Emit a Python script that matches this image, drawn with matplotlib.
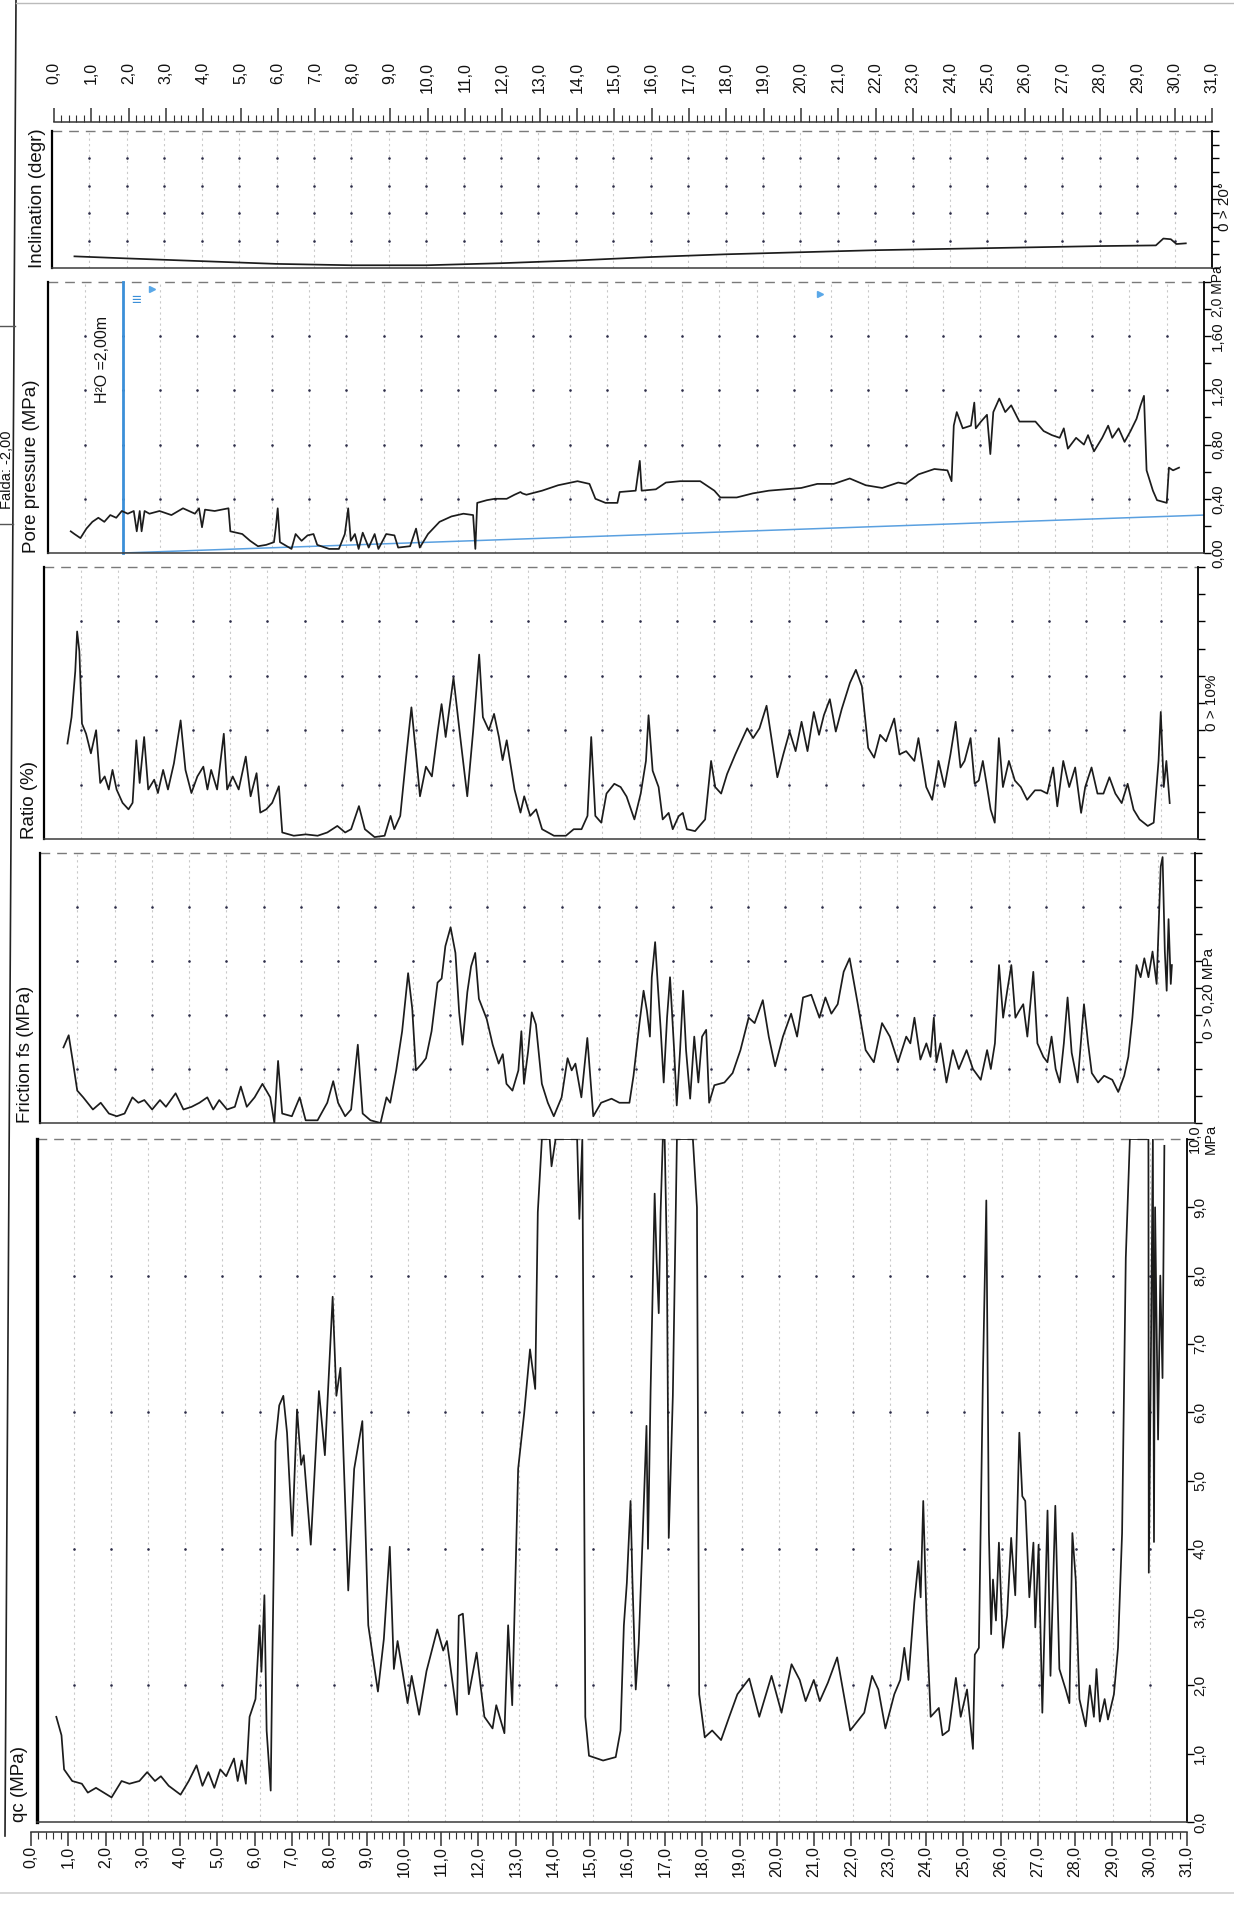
import matplotlib
matplotlib.use("Agg")
import matplotlib.pyplot as plt
import numpy as np
from matplotlib.transforms import blended_transform_factory
from matplotlib.lines import Line2D

# ---------------- DATA ----------------
depth_ticks = list(range(0, 32))
depth_labels = [f"{d},0" for d in depth_ticks]

qc_depth = [0.52,0.66,0.73,0.95,1.21,1.37,1.59,2.01,2.28,2.49,2.76,2.97,3.18,3.34,3.55,3.87,4.09,4.30,4.46,4.62,
            4.78,4.94,5.10,5.31,5.41,5.52,5.63,5.73,5.89,6.00,6.05,6.13,6.19,6.30,6.34,6.43,6.53,6.64,6.74,6.88,
            7.01,7.12,7.19,7.38,7.60,7.76,7.97,8.07,8.18,8.39,8.55,8.77,8.93,9.19,9.35,9.51,9.62,9.72,9.99,10.10,
            10.30,10.50,10.79,10.95,11.05,11.32,11.37,11.48,11.64,11.85,12.06,12.28,12.38,12.60,12.70,12.81,12.97,13.13,13.29,13.43,
            13.50,13.61,13.82,13.87,13.98,14.56,14.62,14.70,14.74,14.78,14.88,15.26,15.60,15.73,15.82,15.90,16.00,16.05,16.14,16.22,
            16.33,16.43,16.47,16.54,16.65,16.70,16.76,16.81,16.87,16.92,16.98,17.03,17.14,17.25,17.68,17.79,17.85,18.00,18.20,18.44,
            18.66,18.88,19.20,19.47,19.80,20.07,20.34,20.56,20.72,20.94,21.10,21.32,21.57,21.92,22.30,22.51,22.68,22.87,23.11,23.27,
            23.38,23.49,23.65,23.76,23.82,23.89,23.98,24.09,24.31,24.41,24.58,24.77,24.90,25.07,25.23,25.28,25.39,25.50,25.59,25.66,
            25.72,25.77,25.85,25.93,26.04,26.15,26.26,26.37,26.48,26.56,26.64,26.75,26.86,26.91,27.00,27.10,27.24,27.32,27.45,27.56,
            27.73,27.83,27.91,28.00,28.10,28.27,28.38,28.49,28.56,28.65,28.78,28.87,29.03,29.14,29.25,29.35,29.46,29.96,29.97,30.03,
            30.08,30.11,30.14,30.22,30.28,30.34,30.39]
qc_value = [1.54,1.27,0.77,0.60,0.56,0.43,0.50,0.36,0.60,0.56,0.60,0.73,0.60,0.67,0.53,0.40,0.60,0.83,0.53,0.73,
            0.50,0.77,0.67,0.93,0.60,0.90,0.56,1.54,1.80,2.88,2.20,3.32,1.34,0.46,2.20,5.57,6.10,6.24,5.70,4.19,
            6.04,5.23,5.37,4.06,6.31,5.37,7.69,6.24,6.65,3.39,5.17,5.87,2.88,1.91,2.68,4.03,2.24,2.65,1.74,2.14,
            1.57,2.21,2.82,2.51,2.65,1.57,3.02,3.05,1.87,2.48,1.54,1.37,1.71,1.30,2.88,1.71,5.17,5.97,6.92,6.34,
            8.93,10.0,10.0,9.60,10.0,10.0,8.83,10.0,6.00,1.54,0.97,0.90,0.95,1.34,2.88,3.50,4.70,3.55,1.94,2.61,
            4.23,5.80,4.00,6.30,9.20,8.26,7.45,8.93,10.0,10.0,8.26,4.16,6.24,10.0,10.0,9.00,1.87,1.24,1.34,1.20,
            1.54,1.87,2.10,1.54,2.14,1.60,2.31,2.08,1.77,2.08,1.77,2.04,2.41,1.34,1.60,2.14,1.94,1.37,1.87,2.08,
            2.55,2.08,3.22,3.82,3.29,4.70,2.95,1.54,1.67,1.27,1.34,2.11,1.54,1.94,1.07,2.45,2.55,6.58,9.10,4.23,
            2.75,3.55,2.95,4.09,2.55,3.02,4.16,3.32,5.70,4.77,4.70,3.29,4.09,2.85,4.06,1.60,4.56,2.14,4.63,2.24,
            1.94,1.74,4.23,3.55,1.80,1.40,2.00,1.54,2.24,1.47,1.80,1.50,1.87,2.55,4.23,8.26,10.0,10.0,3.65,7.00,
            10.0,4.10,9.00,5.60,8.00,6.50,9.90]

fs_depth = [0.63,0.77,0.89,1.00,1.16,1.42,1.63,1.85,2.06,2.27,2.48,2.64,2.80,3.01,3.22,3.38,3.64,3.85,4.07,4.28,
            4.49,4.65,4.81,5.02,5.23,5.39,5.55,5.76,5.97,6.18,6.29,6.39,6.50,6.76,6.97,7.13,7.45,7.71,7.87,8.00,
            8.19,8.35,8.53,8.66,8.87,9.14,9.30,9.40,9.56,9.72,9.88,9.99,10.09,10.25,10.36,10.51,10.67,10.78,10.88,11.02,
            11.15,11.25,11.34,11.47,11.57,11.68,11.78,11.99,12.15,12.31,12.42,12.52,12.68,12.84,12.92,12.99,13.10,13.20,13.31,13.47,
            13.63,13.79,14.00,14.16,14.27,14.37,14.53,14.69,14.85,15.06,15.34,15.55,15.82,15.93,16.09,16.20,16.29,16.37,16.42,16.51,
            16.58,16.66,16.74,16.83,16.91,17.02,17.09,17.18,17.26,17.34,17.45,17.56,17.67,17.77,17.88,17.96,18.10,18.37,18.59,18.80,
            19.02,19.18,19.40,19.56,19.73,19.94,20.16,20.32,20.48,20.70,20.92,21.08,21.24,21.41,21.57,21.73,21.95,22.16,22.38,22.60,
            22.81,23.03,23.25,23.36,23.47,23.63,23.79,23.90,23.99,24.06,24.17,24.33,24.50,24.66,24.87,25.04,25.25,25.42,25.52,25.63,
            25.74,25.85,25.96,26.07,26.18,26.28,26.39,26.50,26.66,26.77,26.93,27.04,27.15,27.26,27.37,27.48,27.58,27.69,27.85,28.02,
            28.13,28.23,28.40,28.56,28.78,28.94,29.10,29.21,29.32,29.43,29.54,29.64,29.75,29.86,29.97,30.08,30.13,30.19,30.24,30.29,
            30.35,30.38]
fs_value = [0.056,0.065,0.044,0.024,0.019,0.010,0.015,0.007,0.005,0.007,0.019,0.015,0.017,0.010,0.017,0.012,0.022,0.010,0.012,0.015,
            0.019,0.010,0.017,0.010,0.012,0.027,0.012,0.019,0.029,0.019,0.000,0.046,0.007,0.005,0.019,0.002,0.002,0.015,0.031,0.015,
            0.005,0.010,0.058,0.007,0.002,0.000,0.019,0.015,0.039,0.068,0.111,0.085,0.039,0.044,0.048,0.068,0.104,0.107,0.131,0.145,
            0.126,0.082,0.058,0.097,0.116,0.126,0.092,0.077,0.058,0.044,0.051,0.029,0.024,0.039,0.068,0.029,0.053,0.082,0.073,0.029,
            0.015,0.005,0.019,0.048,0.039,0.044,0.019,0.063,0.005,0.015,0.018,0.015,0.015,0.035,0.074,0.098,0.083,0.064,0.108,0.134,
            0.103,0.069,0.030,0.078,0.108,0.054,0.013,0.054,0.098,0.054,0.018,0.064,0.030,0.064,0.069,0.015,0.028,0.030,0.037,0.054,
            0.078,0.074,0.091,0.064,0.042,0.064,0.081,0.064,0.093,0.095,0.078,0.093,0.081,0.088,0.112,0.122,0.088,0.054,0.045,0.074,
            0.064,0.045,0.064,0.059,0.078,0.047,0.059,0.049,0.078,0.045,0.059,0.030,0.054,0.040,0.054,0.040,0.032,0.054,0.040,0.059,
            0.117,0.078,0.098,0.117,0.078,0.083,0.088,0.064,0.112,0.059,0.049,0.045,0.064,0.040,0.030,0.059,0.093,0.052,0.030,0.088,
            0.059,0.037,0.030,0.035,0.032,0.023,0.035,0.049,0.078,0.117,0.108,0.122,0.108,0.127,0.103,0.190,0.197,0.127,0.098,0.151,
            0.103,0.117]

rf_depth = [0.63,0.74,0.84,0.89,0.95,1.02,1.13,1.26,1.40,1.51,1.63,1.74,1.84,1.95,2.11,2.27,2.38,2.48,2.57,2.69,
            2.80,2.96,3.06,3.20,3.33,3.49,3.67,3.80,3.96,4.12,4.28,4.39,4.49,4.65,4.83,4.92,5.07,5.23,5.42,5.55,
            5.71,5.81,5.97,6.13,6.31,6.40,6.71,7.03,7.35,7.61,7.88,8.09,8.25,8.46,8.62,8.88,9.15,9.31,9.41,9.57,
            9.73,9.87,10.00,10.10,10.26,10.42,10.58,10.68,10.79,11.00,11.16,11.37,11.53,11.69,11.79,11.95,12.09,12.22,12.32,12.43,
            12.64,12.80,12.90,13.06,13.22,13.38,13.70,14.02,14.23,14.44,14.60,14.70,14.81,14.97,15.11,15.32,15.49,15.65,15.86,16.03,
            16.17,16.24,16.35,16.51,16.62,16.78,16.89,17.05,17.16,17.27,17.49,17.76,17.92,18.03,18.19,18.35,18.57,18.73,18.89,19.05,
            19.22,19.41,19.54,19.70,19.86,20.03,20.19,20.35,20.51,20.68,20.82,20.95,21.11,21.27,21.43,21.65,21.81,21.97,22.14,22.30,
            22.46,22.62,22.84,22.98,23.16,23.38,23.49,23.70,23.86,24.03,24.19,24.35,24.49,24.62,24.73,24.89,25.00,25.11,25.22,25.32,
            25.43,25.54,25.65,25.76,25.92,26.08,26.24,26.41,26.62,26.78,26.95,27.11,27.22,27.38,27.54,27.70,27.86,27.97,28.14,28.30,
            28.46,28.62,28.78,28.95,29.11,29.27,29.43,29.65,29.81,29.94,30.00,30.08,30.15,30.24]
rf_value = [3.51,4.48,6.17,7.63,6.90,4.24,3.87,3.15,4.00,2.06,2.30,1.82,2.54,1.82,1.33,1.09,1.33,3.63,2.06,3.75,
            1.82,2.18,1.69,2.54,1.82,2.78,4.36,2.54,1.69,2.30,2.66,1.82,2.54,1.82,3.87,1.82,2.30,1.82,3.03,1.57,
            2.42,0.97,1.09,1.33,1.94,0.24,0.12,0.17,0.12,0.24,0.48,0.24,0.36,1.21,0.36,0.07,0.12,0.85,0.36,0.85,
            3.03,4.84,3.03,1.57,2.66,2.30,4.00,4.96,3.75,5.93,4.00,1.57,4.00,6.78,4.48,4.00,4.60,3.75,2.90,3.63,
            1.82,0.97,1.57,0.85,1.09,0.36,0.12,0.12,0.36,0.36,0.85,3.75,0.85,0.60,1.67,2.03,1.91,1.56,0.72,1.67,
            2.87,4.55,2.51,1.91,0.72,0.96,0.36,0.84,0.96,0.36,0.29,0.72,2.87,1.91,1.67,2.39,3.11,3.59,4.07,3.71,
            4.07,4.90,3.71,2.27,3.11,3.95,3.23,4.31,3.23,4.67,3.83,4.55,5.14,3.95,4.78,5.74,6.22,5.62,3.35,2.99,
            3.83,3.59,4.43,3.11,3.23,2.87,3.71,1.91,1.44,2.87,1.91,3.11,4.31,2.63,2.87,3.71,2.03,2.15,2.87,2.03,
            1.08,0.60,3.71,1.91,2.87,2.15,1.91,1.44,1.79,1.79,1.67,2.63,1.20,2.87,1.91,2.63,0.96,1.91,2.63,1.67,
            1.67,2.27,1.67,1.32,2.03,1.08,0.72,0.48,0.60,2.87,4.67,1.91,2.87,1.32]

u_depth = [0.61,0.71,0.87,1.03,1.19,1.35,1.51,1.67,1.83,1.98,2.14,2.30,2.38,2.46,2.51,2.59,2.72,2.99,3.31,3.62,
           3.94,4.05,4.13,4.21,4.47,4.84,4.89,5.21,5.42,5.63,5.85,6.06,6.11,6.16,6.22,6.53,6.64,6.80,6.96,7.12,
           7.22,7.54,7.80,7.96,8.05,8.12,8.23,8.33,8.44,8.60,8.76,8.86,9.07,9.29,9.39,9.71,9.87,9.97,10.19,10.50,
           10.82,11.14,11.40,11.46,11.51,11.77,11.98,12.30,12.51,12.67,12.72,12.83,13.25,13.68,14.20,14.52,14.68,14.95,15.27,15.33,
           15.76,15.87,15.92,16.30,16.57,16.95,17.49,17.87,18.03,18.47,18.90,19.33,19.77,20.20,20.63,21.07,21.50,21.93,22.37,22.80,
           23.00,23.34,23.77,24.12,24.23,24.29,24.37,24.53,24.75,24.84,24.88,25.02,25.18,25.27,25.35,25.51,25.67,25.83,26.05,26.27,
           26.48,26.70,26.92,27.13,27.24,27.35,27.57,27.78,27.89,28.05,28.27,28.43,28.54,28.71,28.87,29.03,29.19,29.30,29.39,29.46,
           29.63,29.74,30.00,30.06,30.17,30.33]
u_value = [0.16,0.14,0.11,0.18,0.23,0.26,0.23,0.28,0.26,0.31,0.29,0.31,0.16,0.31,0.16,0.31,0.29,0.31,0.28,0.33,
           0.29,0.33,0.19,0.32,0.31,0.33,0.16,0.14,0.09,0.05,0.06,0.08,0.19,0.33,0.08,0.03,0.14,0.09,0.13,0.14,
           0.06,0.03,0.03,0.14,0.33,0.09,0.14,0.03,0.15,0.04,0.14,0.03,0.14,0.13,0.04,0.05,0.18,0.04,0.14,0.23,
           0.27,0.29,0.28,0.03,0.37,0.39,0.40,0.40,0.43,0.45,0.44,0.43,0.46,0.50,0.53,0.51,0.40,0.37,0.37,0.45,
           0.46,0.68,0.46,0.47,0.52,0.53,0.53,0.46,0.41,0.41,0.44,0.46,0.47,0.48,0.51,0.51,0.55,0.50,0.48,0.52,
           0.51,0.58,0.62,0.61,0.53,0.94,1.04,0.92,0.94,1.11,0.92,0.97,1.02,0.73,1.04,1.14,1.04,1.09,0.97,0.97,
           0.97,0.90,0.87,0.85,0.92,0.77,0.85,0.80,0.87,0.75,0.85,0.94,0.85,0.92,0.82,0.90,0.99,1.09,1.16,0.61,
           0.46,0.39,0.37,0.63,0.61,0.63]

hydro_depth = [2.0, 31.0]
hydro_u = [0.0, 0.28]
water_depth = 2.0
wt_mark_depth = [2.8, 20.7]
wt_mark_u = [1.95, 1.91]

incl_depth = [0.6, 2.0, 4.0, 6.0, 8.0, 10.0, 12.0, 14.0, 16.0, 18.0, 20.0, 22.0, 24.0, 26.0, 28.0, 29.5, 29.7, 29.9, 30.05, 30.3]
incl_value = [1.7, 1.4, 1.0, 0.6, 0.4, 0.4, 0.7, 1.1, 1.6, 2.0, 2.3, 2.6, 2.8, 3.0, 3.2, 3.3, 4.3, 4.2, 3.5, 3.6]

# ---------------- LAYOUT ----------------
W, H, DPI = 1234, 1910, 100
plt.rcParams['font.family'] = ['Liberation Sans', 'DejaVu Sans']
fig = plt.figure(figsize=(W / DPI, H / DPI), dpi=DPI)
fig.patch.set_facecolor('white')

def add_ax(L, R, T, B):
    return fig.add_axes([L / W, 1 - B / H, (R - L) / W, (B - T) / H])

LINE = '#1c1c1c'
DOT = '#2c2c48'
GRIDC = '#c9c9c9'

panels = [
    # key, L, R, T, B, ymax, step, rows, title, title_x
    ('incl', 52, 1212, 131, 268, 20.0, 2.0, [4, 8, 12, 16], 'Inclination (degr)', 37),
    ('u', 48, 1204, 282, 553, 2.0, 0.2, [0.4, 0.8, 1.2, 1.6], 'Pore pressure (MPa)', 32),
    ('rf', 44, 1198, 567, 839, 10.0, 1.0, [2, 4, 6, 8], 'Ratio (%)', 29),
    ('fs', 40, 1195, 853, 1123, 0.2, 0.02, [0.04, 0.08, 0.12, 0.16], 'Friction fs (MPa)', 25),
    ('qc', 37, 1187, 1139, 1822, 10.0, 1.0, [2, 4, 6, 8], 'qc (MPa)', 19),
]
series = {'incl': (incl_depth, incl_value), 'u': (u_depth, u_value), 'rf': (rf_depth, rf_value),
          'fs': (fs_depth, fs_value), 'qc': (qc_depth, qc_value)}

axes = {}
grid_d = [d for d in depth_ticks if 1 <= d <= 30]
for key, L, R, T, B, ymax, step, rows, title, tx in panels:
    ax = add_ax(L, R, T, B)
    axes[key] = ax
    ax.set_xlim(0, 31)
    ax.set_ylim(0, ymax)
    ax.set_facecolor('none')
    ax.spines['top'].set_visible(False)
    ax.spines['left'].set_linewidth(2.4 if key == 'qc' else 1.6)
    ax.spines['bottom'].set_linewidth(1.1)
    ax.spines['bottom'].set_color('#3a3a3a')
    ax.spines['right'].set_linewidth(1.3)
    ax.set_xticks([])
    ax.yaxis.tick_right()
    ax.set_yticks(np.arange(0, ymax + step / 2, step))
    ax.tick_params(axis='y', which='both', direction='out', length=5, width=1.0,
                   labelright=False, labelleft=False)
    ax.axhline(ymax, ls=(0, (7, 5)), color='#7a7a7a', lw=1.0, clip_on=False)
    for d in grid_d:
        ax.axvline(d, color=GRIDC, lw=0.8, ls=(0, (2, 3)), zorder=0)
    gx, gy = np.meshgrid(grid_d, rows)
    ax.scatter(gx.ravel(), gy.ravel(), s=3.5, color=DOT, zorder=1, linewidths=0)
    dd, vv = series[key]
    ax.plot(dd, vv, color=LINE, lw=1.25, zorder=3, solid_joinstyle='round')
    fig.text(tx / W, 1 - B / H, title, rotation=90, ha='center', va='bottom', fontsize=13.5, color='#111')

# right-axis labels
def rlabel(ax, L, R, y, text, off=14, fs=11):
    tr = blended_transform_factory(ax.transAxes, ax.transData)
    ax.text(1 + off / (R - L), y, text, transform=tr, rotation=90, ha='center', va='center',
            fontsize=fs, color='#111', clip_on=False)

pinfo = {p[0]: p for p in panels}
_, L, R, T, B, *_ = pinfo['incl']
rlabel(axes['incl'], L, R, 9.0, '0 > 20°', off=13)
_, L, R, T, B, *_ = pinfo['u']
for v, s in zip([0.0, 0.4, 0.8, 1.2, 1.6], ['0,00', '0,40', '0,80', '1,20', '1,60']):
    rlabel(axes['u'], L, R, v, s)
rlabel(axes['u'], L, R, 1.93, '2,0 MPa', off=14, fs=10)
_, L, R, T, B, *_ = pinfo['rf']
rlabel(axes['rf'], L, R, 5.0, '0 > 10%')
_, L, R, T, B, *_ = pinfo['fs']
rlabel(axes['fs'], L, R, 0.096, '0 > 0,20 MPa')
_, L, R, T, B, *_ = pinfo['qc']
for v in range(0, 10):
    rlabel(axes['qc'], L, R, v, f'{v},0', off=13)
rlabel(axes['qc'], L, R, 10.0, '10,0\nMPa', off=16, fs=10.5)

# water table / hydrostatic line
axu = axes['u']
axu.plot([water_depth, water_depth], [0, 2.0], color='#3b8fd8', lw=2.0, zorder=2, clip_on=False)
axu.plot(hydro_depth, hydro_u, color='#5aa0e0', lw=1.1, zorder=2)
axu.plot(wt_mark_depth, wt_mark_u, ls='none', marker='>', ms=4, color='#5aa8e8', zorder=4)
axu.text(water_depth + 0.35, 1.86, '≡', color='#3b8fd8', fontsize=12, ha='center', va='center')
axu.text(1.45, 1.75, 'H²O =2,00m', rotation=90, rotation_mode='anchor', ha='right', va='center',
         fontsize=11.5, color='#111')

# ---------------- RULERS ----------------
def ruler(L, R, T, B, top_side, label_y):
    ax = add_ax(L, R, T, B)
    ax.set_xlim(0, 31)
    ax.set_ylim(0, 1)
    ax.set_facecolor('none')
    ax.set_yticks([])
    for s in ['left', 'right', 'top', 'bottom']:
        ax.spines[s].set_visible(False)
    side = 'top' if top_side else 'bottom'
    ax.spines[side].set_visible(True)
    ax.spines[side].set_linewidth(1.1)
    ax.spines[side].set_color('#333')
    if top_side:
        ax.xaxis.tick_top()
    ax.set_xticks(depth_ticks)
    ax.set_xticks(np.arange(0, 31.01, 0.2), minor=True)
    ax.tick_params(axis='x', which='major', direction='in', length=10, width=1.1, color='#333',
                   labelbottom=False, labeltop=False)
    ax.tick_params(axis='x', which='minor', direction='in', length=5, width=0.8, color='#333')
    tr = blended_transform_factory(ax.transData, fig.transFigure)
    for d, lab in zip(depth_ticks, depth_labels):
        ax.text(d, 1 - label_y / H, lab, transform=tr, rotation=90, rotation_mode='anchor',
                ha='right', va='center', fontsize=11.5, color='#111')
    return ax

ruler(54, 1212, 102, 122, False, 62)
ruler(31, 1187, 1832, 1850, True, 1846)

# ---------------- PAGE DECORATION ----------------
fig.add_artist(Line2D([16 / W, 5 / W], [1, 1 - 1836 / H], color='#222', lw=1.2))
fig.add_artist(Line2D([16 / W, 1], [1 - 3 / H, 1 - 3 / H], color='#bbbbbb', lw=1.0))
fig.add_artist(Line2D([0, 15 / W], [1 - 326 / H, 1 - 326 / H], color='#555', lw=1.0))
fig.add_artist(Line2D([0, 13 / W], [1 - 524 / H, 1 - 524 / H], color='#555', lw=1.0))
fig.add_artist(Line2D([0, 1], [1 - 1893 / H, 1 - 1893 / H], color='#cfcfcf', lw=1.2))
fig.text(7 / W, 1 - 470 / H, 'Falda: -2,00', rotation=90, ha='center', va='center', fontsize=10.5, color='#111')

fig.savefig('out.png', dpi=DPI, facecolor='white')
